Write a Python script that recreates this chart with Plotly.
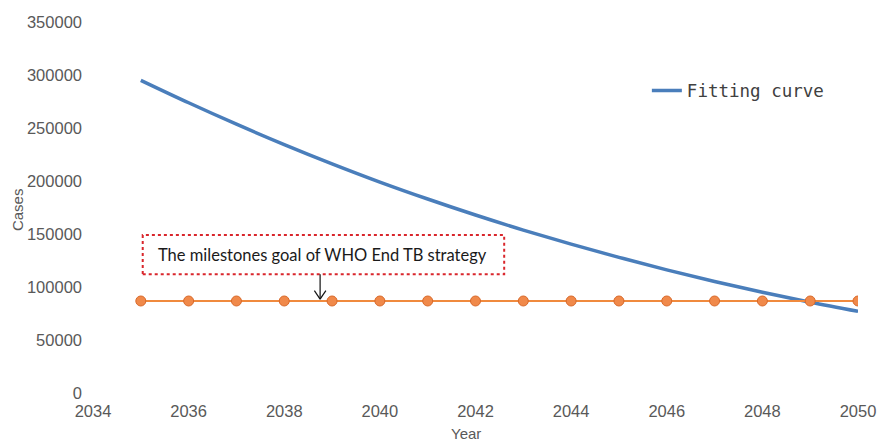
import plotly.graph_objects as go

# data
years = list(range(2035, 2051))
fitting_curve = [295000, 273800, 253600, 234400, 216200, 199000, 183000, 167900,
                 153700, 140400, 128000, 116200, 105200, 95000, 85600, 77000]
milestone = [86800] * len(years)

x_ticks = list(range(2034, 2051, 2))
y_ticks = list(range(0, 350001, 50000))

tick_font = dict(family="Liberation Sans, Arial, sans-serif", size=16.5, color="#595959")
title_font = dict(family="Liberation Sans, Arial, sans-serif", size=15, color="#595959")

fig = go.Figure()

fig.add_trace(go.Scatter(
    x=years, y=fitting_curve,
    mode="lines",
    name="Fitting curve",
    line=dict(color="#4A7EBB", width=3.5, shape="spline"),
))

fig.add_trace(go.Scatter(
    x=years, y=milestone,
    mode="lines+markers",
    name="Milestone",
    showlegend=False,
    line=dict(color="#F08A3E", width=2),
    marker=dict(size=10, color="#F0894A", line=dict(color="#D9692A", width=1)),
))

# dotted callout box + arrow
fig.add_shape(type="rect", xref="x", yref="y",
              x0=2035.04, x1=2042.6, y0=112000, y1=149000,
              line=dict(color="#D9262C", width=2, dash="dot"))
fig.add_annotation(x=2038.8, y=130500, xref="x", yref="y",
                   text="The milestones goal of WHO End TB strategy",
                   showarrow=False,
                   font=dict(family="Lato, Open Sans, sans-serif", size=16.5, color="#1a1a1a"))
fig.add_shape(type="line", xref="x", yref="y",
              x0=2038.75, x1=2038.75, y0=112000, y1=88500,
              line=dict(color="#111111", width=1.2))
fig.add_shape(type="line", xref="x", yref="y",
              x0=2038.63, x1=2038.75, y0=96500, y1=88500,
              line=dict(color="#111111", width=1.2))
fig.add_shape(type="line", xref="x", yref="y",
              x0=2038.87, x1=2038.75, y0=96500, y1=88500,
              line=dict(color="#111111", width=1.2))

# axis titles
fig.add_annotation(text="Year", xref="paper", yref="paper", x=0.487, y=0,
                   yshift=-40, yanchor="middle", showarrow=False, font=title_font)
fig.add_annotation(text="Cases", xref="paper", yref="paper", x=0, y=0.493,
                   xshift=-76, xanchor="center", yanchor="middle", textangle=-90,
                   showarrow=False, font=title_font)

fig.update_layout(
    width=879, height=441,
    margin=dict(l=93, r=21, t=22, b=48, autoexpand=False),
    paper_bgcolor="white",
    plot_bgcolor="white",
    legend=dict(x=0.724, y=0.815, xanchor="left", yanchor="middle",
                font=dict(family="DejaVu Sans Mono, monospace", size=17.5, color="#404040"),
                bgcolor="rgba(0,0,0,0)"),
    xaxis=dict(
        range=[2034, 2050], tickvals=x_ticks, ticktext=[str(v) for v in x_ticks],
        showgrid=False, zeroline=False, showline=False, automargin=False,
        tickfont=tick_font, ticklabelstandoff=6,
    ),
    yaxis=dict(
        range=[0, 350000], tickvals=y_ticks, ticktext=[str(v) for v in y_ticks],
        showgrid=False, zeroline=False, showline=False, automargin=False,
        tickfont=tick_font, ticklabelstandoff=10,
    ),
)

# drop the default 8px page margin so the figure sits at the window's corner
fig.write_html("out.html", config={"displayModeBar": False},
               post_script="document.body.style.margin='0';")
